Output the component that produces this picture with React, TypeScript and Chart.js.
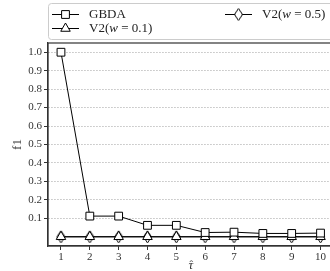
import { useEffect, useRef } from 'react';
import { Chart, registerables } from 'chart.js';

Chart.register(...registerables);

const xValues = [1, 2, 3, 4, 5, 6, 7, 8, 9, 10];
const gbda = [1.0, 0.112, 0.112, 0.062, 0.062, 0.023, 0.025, 0.018, 0.018, 0.02];
const v2w01 = [0.0, 0.0, 0.0, 0.0, 0.0, 0.0, 0.0, 0.0, 0.0, 0.0];
const v2w05 = [0.0, 0.0, 0.0, 0.0, 0.0, 0.0, 0.0, 0.0, 0.0, 0.0];
const yTicks = [0.1, 0.2, 0.3, 0.4, 0.5, 0.6, 0.7, 0.8, 0.9, 1.0];
const xTicks = [1, 2, 3, 4, 5, 6, 7, 8, 9, 10];
const seriesNames = ['GBDA', 'V2(w = 0.1)', 'V2(w = 0.5)'];
const xTitle = '\u03C4';
const yTitle = 'f1';

const FONT = '"Liberation Serif", "DejaVu Serif", serif';

function makeDiamond(): HTMLCanvasElement {
  const c = document.createElement('canvas');
  c.width = 11;
  c.height = 14;
  const g = c.getContext('2d')!;
  g.beginPath();
  g.moveTo(5.5, 1);
  g.lineTo(9.5, 7);
  g.lineTo(5.5, 13);
  g.lineTo(1.5, 7);
  g.closePath();
  g.fillStyle = '#ffffff';
  g.fill();
  g.strokeStyle = '#000000';
  g.lineWidth = 1;
  g.stroke();
  return c;
}

function drawMarker(ctx: CanvasRenderingContext2D, kind: string, x: number, y: number, diamond: HTMLCanvasElement) {
  ctx.save();
  ctx.fillStyle = '#ffffff';
  ctx.strokeStyle = '#000000';
  ctx.lineWidth = 1;
  ctx.beginPath();
  if (kind === 'rect') {
    const s = 3.9;
    ctx.rect(x - s, y - s, 2 * s, 2 * s);
    ctx.fill();
    ctx.stroke();
  } else if (kind === 'triangle') {
    const r = 5.5;
    ctx.moveTo(x, y - r);
    ctx.lineTo(x + r * 0.866, y + r * 0.5);
    ctx.lineTo(x - r * 0.866, y + r * 0.5);
    ctx.closePath();
    ctx.fill();
    ctx.stroke();
  } else {
    ctx.drawImage(diamond, x - diamond.width / 2, y - diamond.height / 2);
  }
  ctx.restore();
}

function drawRichLabel(ctx: CanvasRenderingContext2D, text: string, x: number, y: number) {
  const size = 13;
  const m = text.match(/^(.*\()w(.*)$/);
  const parts: [string, boolean][] = m ? [[m[1], false], ['w', true], [m[2], false]] : [[text, false]];
  let cx = x;
  for (const [t, it] of parts) {
    ctx.font = `${it ? 'italic ' : ''}${size}px ${FONT}`;
    ctx.fillText(t, cx, y);
    cx += ctx.measureText(t).width;
  }
}

export default function App() {
  const ref = useRef<HTMLCanvasElement | null>(null);

  useEffect(() => {
    if (!ref.current) return;
    const diamond = makeDiamond();
    const markers = ['rect', 'triangle', 'diamond'];

    const framePlugin = {
      id: 'frameAndLegend',
      afterDraw(chart: any) {
        const ctx: CanvasRenderingContext2D = chart.ctx;
        const a = chart.chartArea;
        ctx.save();
        ctx.strokeStyle = '#333333';
        ctx.lineWidth = 1.2;
        ctx.strokeRect(a.left, a.top, a.right - a.left, a.bottom - a.top);

        // x-axis title: tau with a hat
        const cx = (a.left + a.right) / 2;
        ctx.fillStyle = '#333333';
        ctx.textAlign = 'center';
        ctx.textBaseline = 'alphabetic';
        ctx.font = `italic 13px ${FONT}`;
        ctx.fillText(xTitle, cx, 269);
        ctx.font = `11px ${FONT}`;
        ctx.fillText('\u02C6', cx + 0.5, 268);

        // legend box
        ctx.beginPath();
        ctx.fillStyle = '#ffffff';
        ctx.strokeStyle = '#cccccc';
        ctx.lineWidth = 1;
        (ctx as any).roundRect(48.5, 3.5, 300, 36, 3);
        ctx.fill();
        ctx.stroke();

        const pos = [
          [52, 14],
          [52, 28],
          [225, 14],
        ];
        seriesNames.forEach((name, i) => {
          const [lx, ly] = pos[i];
          ctx.beginPath();
          ctx.strokeStyle = '#000000';
          ctx.lineWidth = 1;
          ctx.moveTo(lx, ly + 0.5);
          ctx.lineTo(lx + 27, ly + 0.5);
          ctx.stroke();
          drawMarker(ctx, markers[i], lx + 13.5, ly + 0.5, diamond);
          ctx.fillStyle = '#222222';
          ctx.textBaseline = 'middle';
          ctx.textAlign = 'left';
          drawRichLabel(ctx, name, lx + 37, ly + 1);
        });
        ctx.restore();
      },
    };

    const mk = (vals: number[]) => vals.map((v, i) => ({ x: xValues[i], y: v }));

    const chart = new Chart(ref.current, {
      type: 'line',
      data: {
        datasets: [
          {
            label: seriesNames[0],
            data: mk(gbda),
            borderColor: '#000000',
            borderWidth: 1,
            backgroundColor: '#ffffff',
            pointStyle: 'rect',
            pointRadius: 5.5,
            pointBorderWidth: 1,
            pointBorderColor: '#000000',
            pointBackgroundColor: '#ffffff',
          },
          {
            label: seriesNames[1],
            data: mk(v2w01),
            borderColor: '#000000',
            borderWidth: 1,
            backgroundColor: '#ffffff',
            pointStyle: 'triangle',
            pointRadius: 5.5,
            pointBorderWidth: 1,
            pointBorderColor: '#000000',
            pointBackgroundColor: '#ffffff',
          },
          {
            label: seriesNames[2],
            data: mk(v2w05),
            borderColor: '#000000',
            borderWidth: 1,
            backgroundColor: '#ffffff',
            pointStyle: diamond,
            pointRadius: 5,
            pointBorderWidth: 1,
            pointBorderColor: '#000000',
            pointBackgroundColor: '#ffffff',
          },
        ],
      },
      options: {
        animation: false,
        responsive: false,
        maintainAspectRatio: false,
        devicePixelRatio: 1,
        layout: { padding: { top: 43, right: 6, left: 0, bottom: 0 } },
        plugins: { legend: { display: false }, tooltip: { enabled: false } },
        scales: {
          x: {
            type: 'linear',
            min: 0.55,
            max: 10.45,
            afterBuildTicks: (s: any) => {
              s.ticks = xTicks.map((v) => ({ value: v }));
            },
            afterFit: (s: any) => {
              s.height = 25;
            },
            grid: {
              drawOnChartArea: false,
              drawTicks: true,
              tickLength: 4,
              tickColor: '#333333',
              tickWidth: 1,
            },
            border: { display: true, color: '#333333', width: 1.2 },
            ticks: {
              padding: 1,
              maxRotation: 0,
              autoSkip: false,
              color: '#333333',
              font: { family: FONT, size: 11 },
              callback: (v: any) => String(v),
            },
            title: { display: false },
          },
          y: {
            type: 'linear',
            min: -0.05,
            max: 1.05,
            afterBuildTicks: (s: any) => {
              s.ticks = yTicks.map((v) => ({ value: v }));
            },
            afterFit: (s: any) => {
              s.width = 48;
            },
            grid: {
              drawOnChartArea: true,
              drawTicks: true,
              color: '#b0b0b0',
              lineWidth: 0.8,
              tickLength: 4,
              tickColor: '#333333',
              tickWidth: 1,
              tickBorderDash: [],
            },
            border: { display: true, color: '#333333', width: 1.2, dash: [1.5, 1.5] },
            ticks: {
              padding: 2,
              autoSkip: false,
              color: '#333333',
              font: { family: FONT, size: 11 },
              callback: (v: any) => Number(v).toFixed(1),
            },
            title: {
              display: true,
              text: yTitle,
              color: '#333333',
              font: { family: FONT, size: 13 },
              padding: { top: 10, bottom: 0 },
            },
          },
        },
      },
      plugins: [framePlugin],
    } as any);

    return () => {
      chart.destroy();
    };
  }, []);

  return (
    <div style={{ position: 'absolute', left: 0, top: 0, width: 330, height: 271, overflow: 'hidden', background: '#fff' }}>
      <canvas ref={ref} width={340} height={271} style={{ display: 'block', width: 340, height: 271 }} />
    </div>
  );
}
